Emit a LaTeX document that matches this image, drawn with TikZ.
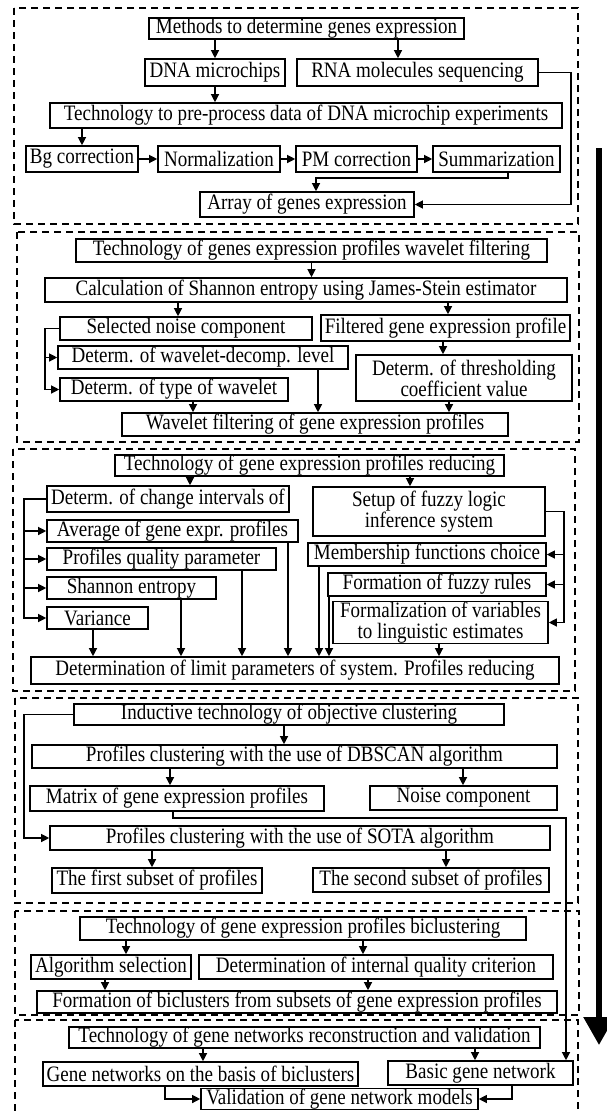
\documentclass[tikz,border=0pt]{standalone}
\usepackage{fontspec}
\setmainfont{Liberation Serif}[FakeStretch=0.865]
\usepackage{tikz}
\usetikzlibrary{arrows.meta,calc}

\tikzset{
  box/.style={draw, line width=1.6pt, inner sep=0.5pt, align=center,
    font=\fontsize{22}{21}\selectfont},
  arr/.style={line width=1.2pt, -{Triangle[length=8pt,width=8pt]}},
  part/.style={line width=1.3pt, dash pattern=on 7pt off 5pt},
}

\begin{document}
\begin{tikzpicture}[x=1pt,y=-1pt]
\useasboundingbox[fill=white] (0,0) rectangle (606,1111);

% stages
\foreach \xa/\ya/\xb/\yb in {14/8/578/224, 17/232/579/442, 13/449/575/691,
    15/698/578/903, 15/911/579/1015, 15/1020/578/1125}
  \draw[part] (\xa,\ya) rectangle (\xb,\yb);

% boxes
\foreach \nm/\xa/\ya/\xb/\yb/\txt in {
    meth/149/18/464/39/Methods to determine genes expression,
    dna/145/59/285/86/DNA microchips,
    rna/297/59/538/86/RNA molecules sequencing,
    prep/50/103/562/128/Technology to pre-process data of DNA microchip experiments,
    bg/26/146/138/172/Bg correction,
    norm/158/146/280/172/Normalization,
    pm/296/146/417/172/PM correction,
    summ/433/146/560/172/Summarization,
    expr/200/192/414/217/Array of genes expression,
    wtech/76/239/547/262/Technology of genes expression profiles wavelet filtering,
    calc/45/278/567/302/Calculation of Shannon entropy using James-Stein estimator,
    noise/60/317/312/340/Selected noise component,
    filt/321/315/570/341/Filtered gene expression profile,
    level/58/346/348/369/Determ. of wavelet-decomp. level,
    wtype/60/378/288/401/Determ. of type of wavelet,
    thr/356/355/572/401/{Determ. of thresholding\\coefficient value},
    wfilt/122/413/508/436/Wavelet filtering of gene expression profiles,
    red/115/455/504/476/Technology of gene expression profiles reducing,
    chg/47/486/289/512/Determ. of change intervals of,
    avg/47/520/298/542/Average of gene expr. profiles,
    qual/47/548/276/570/Profiles quality parameter,
    ent/47/577/216/599/Shannon entropy,
    var/47/607/148/629/Variance,
    fuzzy/313/487/545/536/{Setup of fuzzy logic\\inference system},
    memb/308/543/546/566/Membership functions choice,
    rules/328/573/546/596/Formation of fuzzy rules,
    form/333/602/548/643/{Formalization of variables\\to linguistic estimates},
    lim/31/657/559/684/Determination of limit parameters of system. Profiles reducing,
    ind/74/704/504/725/Inductive technology of objective clustering,
    dbs/32/745/557/768/Profiles clustering with the use of DBSCAN algorithm,
    mat/30/786/324/811/Matrix of gene expression profiles,
    nse/370/786/557/810/Noise component,
    sota/50/826/550/850/Profiles clustering with the use of SOTA algorithm,
    sub1/52/868/262/893/The first subset of profiles,
    sub2/313/868/549/892/The second subset of profiles,
    bic/80/917/526/940/Technology of gene expression profiles biclustering,
    alg/31/955/191/979/Algorithm selection,
    crit/199/955/553/979/Determination of internal quality criterion,
    bcl/37/991/557/1013/Formation of biclusters from subsets of gene expression profiles,
    net/69/1027/540/1048/Technology of gene networks reconstruction and validation,
    gnb/43/1062/358/1086/Gene networks on the basis of biclusters,
    basic/388/1061/573/1085/Basic gene network,
    val/201/1089/478/1109/Validation of gene network models}
  \node[box, minimum width=\xb pt-\xa pt, minimum height=\yb pt-\ya pt]
    (\nm) at ({(\xa+\xb)/2},{(\ya+\yb)/2}) {\txt};

% stage 1
\draw[arr] (meth.south -| dna.north) -- (dna.north);
\draw[arr] (398,0 |- meth.south) -- (398,0 |- rna.north);
\draw[arr] (dna.south) -- (dna.south |- prep.north);
\draw[arr] (prep.south -| bg.north) -- (bg.north);
\foreach \p/\q in {bg/norm, norm/pm, pm/summ}
  \draw[arr] (\p) -- (\q);
\draw[arr] (508,0 |- summ.south) |- (316,178) -- (316,0 |- expr.north);
\draw[arr] (rna.east) -- (571,0 |- rna.east) |- (expr.east);

% stage 2
\draw[arr] (wtech.south) -- (wtech.south |- calc.north);
\draw[arr] (178,0 |- calc.south) -- (178,0 |- noise.north);
\draw[arr] (448,0 |- calc.south) -- (448,0 |- filt.north);
\draw[arr] (noise.west) -- (45,0 |- noise.west) |- (wtype.west);
\draw[arr] (45,0 |- level.west) -- (level.west);
\draw[arr] (443,0 |- filt.south) -- (443,0 |- thr.north);
\foreach \p/\x in {wtype/193, level/318, thr/449}
  \draw[arr] (\x,0 |- \p.south) -- (\x,0 |- wfilt.north);

% stage 3
\draw[arr] (190,0 |- red.south) -- (190,0 |- chg.north);
\draw[arr] (410,0 |- red.south) -- (410,0 |- fuzzy.north);
\draw[arr] (chg.west) -- (24,0 |- chg.west) |- (var.west);
\foreach \p in {avg, qual, ent}
  \draw[arr] (24,0 |- \p.west) -- (\p.west);
\foreach \p/\x in {var/93, ent/181, qual/242, avg/288, memb/319, rules/329, form/439}
  \draw[arr] (\x,0 |- \p.south) -- (\x,0 |- lim.north);
\draw[arr] (fuzzy.east) -- (564,0 |- fuzzy.east) |- (form.east);
\foreach \p in {memb, rules}
  \draw[arr] (564,0 |- \p.east) -- (\p.east);

% stage 4
\draw[arr] (284,0 |- ind.south) -- (284,0 |- dbs.north);
\draw[arr] (170,0 |- dbs.south) -- (170,0 |- mat.north);
\draw[arr] (463,0 |- dbs.south) -- (463,0 |- nse.north);
\draw[arr] (ind.west) -- (24,0 |- ind.west) |- (sota.west);
\draw[arr] (152,0 |- sota.south) -- (152,0 |- sub1.north);
\draw[arr] (446,0 |- sota.south) -- (446,0 |- sub2.north);
\draw[arr] (173,0 |- mat.south) |- (566,818) -- (566,0 |- basic.north);

% stage 5
\draw[arr] (126,0 |- bic.south) -- (126,0 |- alg.north);
\draw[arr] (363,0 |- bic.south) -- (363,0 |- crit.north);
\draw[arr] (105,0 |- alg.south) -- (105,0 |- bcl.north);
\draw[arr] (368,0 |- crit.south) -- (368,0 |- bcl.north);

% stage 6
\draw[arr] (203,0 |- net.south) -- (203,0 |- gnb.north);
\draw[arr] (475,0 |- net.south) -- (475,0 |- basic.north);
\draw[arr] (165,0 |- gnb.south) |- (val.west);
\draw[arr] (512,0 |- basic.south) |- (val.east);

% overall flow
\coordinate (flowtop) at (599,148);
\coordinate (flowend) at (599,1045);
\draw[line width=5.5pt, -{Triangle[length=28pt,width=30pt]}] (flowtop) -- (flowend);
\end{tikzpicture}
\end{document}
